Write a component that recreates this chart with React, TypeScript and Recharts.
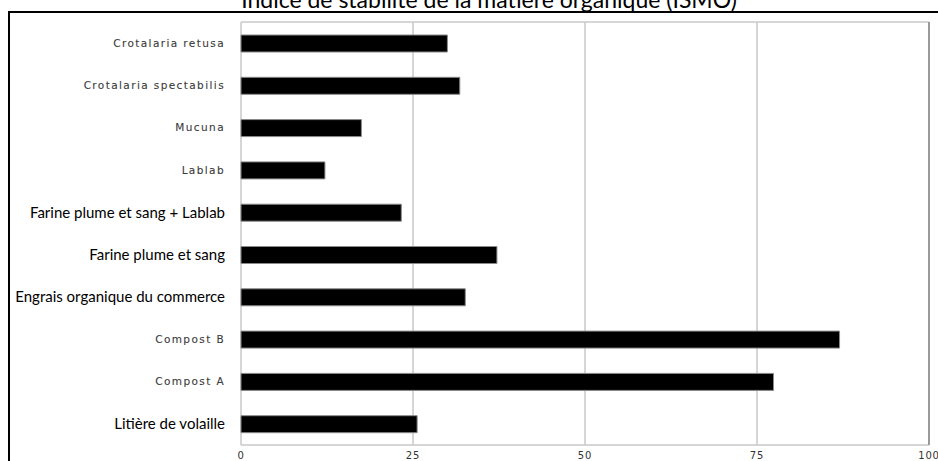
import { BarChart, Bar, XAxis, YAxis, CartesianGrid, ReferenceLine } from 'recharts';

const categories = [
  'Crotalaria retusa',
  'Crotalaria spectabilis',
  'Mucuna',
  'Lablab',
  'Farine plume et sang + Lablab',
  'Farine plume et sang',
  'Engrais organique du commerce',
  'Compost B',
  'Compost A',
  'Litière de volaille',
];
const ismo = [30.0, 31.8, 17.5, 12.2, 23.3, 37.2, 32.6, 87.0, 77.4, 25.6];
const xTicks = [0, 25, 50, 75, 100];

// labels rendered in the original's small wide font
const smallLabels = ['Crotalaria retusa', 'Crotalaria spectabilis', 'Mucuna', 'Lablab', 'Compost B', 'Compost A'];

const data = categories.map((name, i) => ({ name, ismo: ismo[i] }));

function CategoryTick({ x, y, payload }: any) {
  const small = smallLabels.includes(payload.value);
  return (
    <text
      x={x}
      y={y}
      dy="0.35em"
      textAnchor="end"
      fontFamily={small ? 'DejaVu Sans' : 'Lato'}
      fontSize={small ? 10.5 : 15}
      fill={small ? '#3a3a3a' : '#000'}
      stroke={small ? '#3a3a3a' : 'none'}
      strokeWidth={small ? 0.1 : 0}
      letterSpacing={small ? 1.4 : 0}
    >
      {payload.value}
    </text>
  );
}

export default function App() {
  return (
    <div style={{ position: 'absolute', left: 0, top: 0, width: 938, height: 461, overflow: 'hidden', background: '#fff' }}>
      <div
        style={{
          position: 'absolute',
          left: 8,
          top: 11,
          width: 960,
          height: 480,
          border: '2px solid #000',
        }}
      />
      <div
        style={{
          position: 'absolute',
          left: 20,
          width: 938,
          top: -14.5,
          textAlign: 'center',
          fontFamily: 'Lato',
          fontSize: 23,
          lineHeight: '27.6px',
          whiteSpace: 'nowrap',
        }}
      >
        Indice de stabilité de la matière organique (ISMO)
      </div>
      <div style={{ position: 'absolute', left: 0, top: 0 }}>
        <BarChart
          width={938}
          height={461}
          data={data}
          layout="vertical"
          margin={{ top: 22, right: 9, bottom: 0, left: 0 }}
          barCategoryGap={12}
        >
          <CartesianGrid
            stroke="#c8c8c8"
            strokeWidth={1.5}
            horizontalCoordinatesGenerator={({ offset }: any) => [offset.top, offset.top + offset.height]}
          />
          <XAxis
            type="number"
            domain={[0, 100]}
            ticks={xTicks}
            height={16}
            axisLine={false}
            tickLine={false}
            tickMargin={1}
            interval={0}
            tick={{ fontSize: 10, fontFamily: 'DejaVu Sans', fill: '#333', letterSpacing: 0.8 }}
          />
          <YAxis
            dataKey="name"
            type="category"
            width={241}
            axisLine={false}
            tickLine={false}
            tickMargin={10}
            interval={0}
            tick={<CategoryTick />}
          />
          <ReferenceLine x={100} stroke="#9a9a9a" strokeWidth={2} />
          <Bar dataKey="ismo" fill="#000" stroke="#8a8a8a" strokeWidth={1} barSize={17} isAnimationActive={false} />
        </BarChart>
      </div>
    </div>
  );
}
